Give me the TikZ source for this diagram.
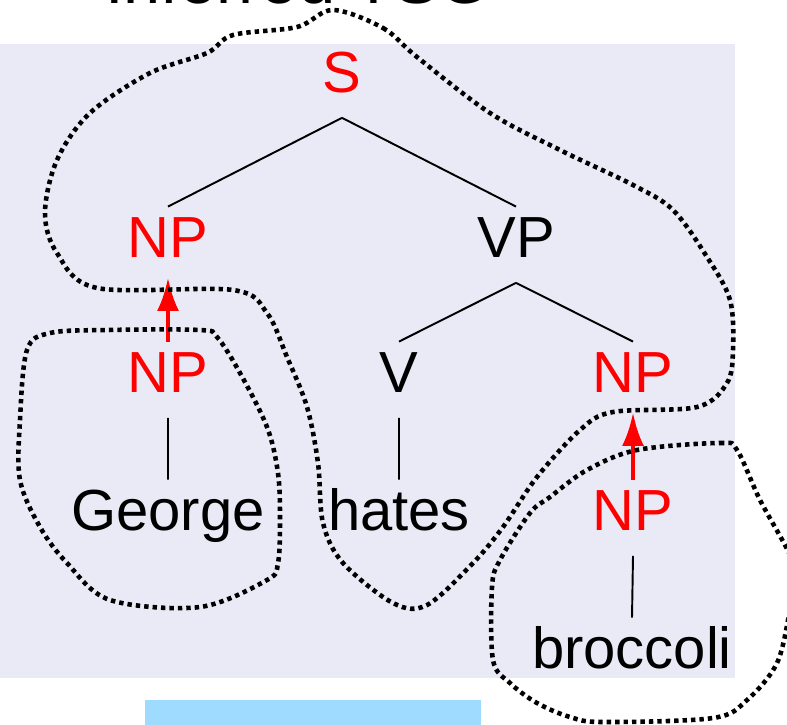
\documentclass[tikz,border=0pt]{standalone}
\usepackage{fontspec}
\setmainfont{Liberation Sans}
\usetikzlibrary{arrows.meta}

\definecolor{folie}{RGB}{234,234,246}
\definecolor{kasten}{RGB}{159,219,255}

\begin{document}
\begin{tikzpicture}[%show background rectangle,
        x=0.02cm, y=-0.02cm,
        font=\fontsize{33}{40}\selectfont,
        kat/.style={anchor=base, inner sep=4.5pt, text height=24pt, text depth=10pt},
        sub/.style={kat, text=red},
        ast/.style={draw, line width=1.1pt},
        subst/.style={draw=red, line width=2.5pt, -{Latex[length=19pt,width=12.5pt]}},
        fragment/.style={draw, line width=2.6pt, dash pattern=on 2.5pt off 2.3pt, tension=0.55}
        ]
            \useasboundingbox (0,0) rectangle (787,724);

            % Hintergrund
            \fill[folie]  (0,44) rectangle (735,678);
            \fill[kasten] (145,700) rectangle (481,730);
            \node[anchor=base, inner sep=0pt, font=\fontsize{38}{44}\selectfont] (titel) at (298,3) {Inferred TSG};

            % Knoten
            \node[sub] (S)   at (342,92)  {S};
            \node[sub] (NPs) at (168,257) {NP};
            \node[kat] (VP)  at (516,257) {VP};
            \node[kat] (V)   at (399,392) {V};
            \node[sub] (NPo) at (633,392) {NP};
            \node[sub] (NPg) at (168,392) {NP};
            \node[sub] (NPb) at (633,530) {NP};
            \node[kat] (george)   at (168,530) {George};
            \node[kat] (hates)    at (399,530) {hates};
            \node[kat] (broccoli) at (632,668) {broccoli};

            % Kanten
            \draw[ast] (S.south)  -- (NPs.north)
                       (S.south)  -- (VP.north)
                       (VP.south) -- (V.north)
                       (VP.south) -- (NPo.north)
                       (V.south)  -- (hates.north)
                       (NPg.south) -- (george.north)
                       (NPb.south) -- (broccoli.north);

            % Substitution
            \draw[subst] (NPg.north) -- ([yshift=3pt]NPs.south);
            \draw[subst] (NPb.north) -- ([yshift=3pt]NPo.south);

            % Fragmente
            \draw[fragment] plot[smooth cycle] coordinates {
                (333,10) (383,28) (417,57) (490,113) (560,150) (633,185) (673,210)
                (707,257) (730,300) (733,350) (727,383) (697,407) (613,412) (580,430)
                (537,477) (503,527) (473,563) (427,605) (393,603) (343,563) (323,523)
                (318,463) (307,407) (287,357) (267,313) (233,290) (97,288) (57,253)
                (45,213) (57,160) (90,113) (150,73) (207,53) (233,35) (297,27)};
            \draw[fragment] plot[smooth cycle] coordinates {
                (27,350) (50,333) (107,330) (200,330) (217,337) (240,373) (267,427)
                (278,473) (280,520) (278,563) (267,580) (200,607) (110,600) (67,563)
                (40,527) (20,480) (20,420)};
            \draw[fragment] plot[smooth cycle] coordinates {
                (637,450) (720,443) (737,450) (760,500) (790,555) (795,580) (790,610)
                (777,663) (747,700) (713,718) (603,722) (570,717) (537,703) (510,683)
                (493,660) (492,587) (500,560) (530,513) (550,497) (587,470)};
        \end{tikzpicture}
\end{document}
